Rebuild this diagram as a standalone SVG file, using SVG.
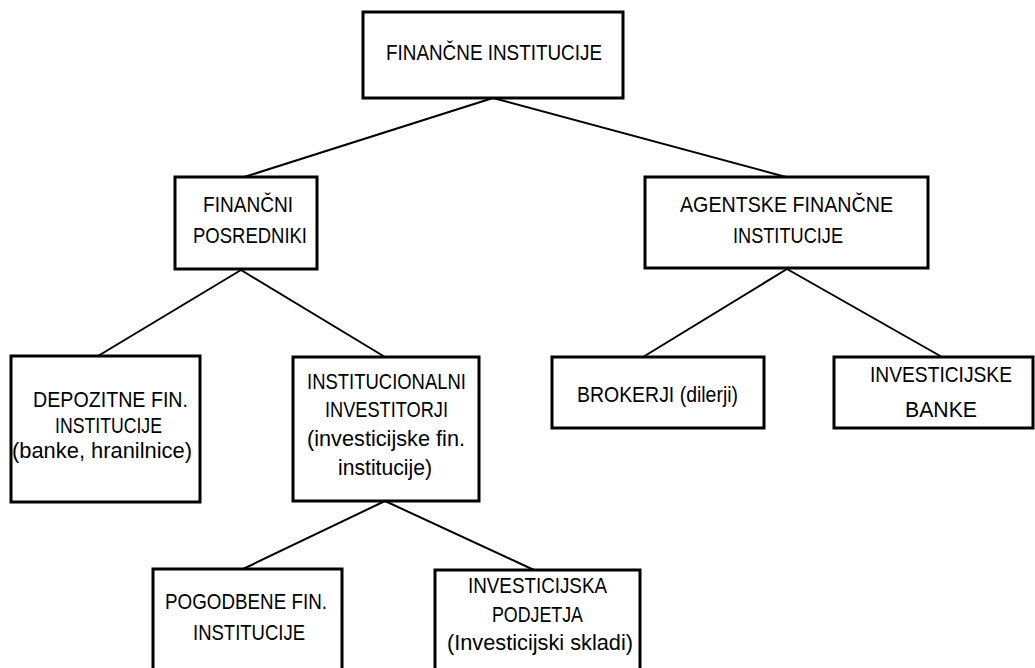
<svg xmlns="http://www.w3.org/2000/svg" width="1035" height="668" viewBox="0 0 1035 668">
<style>
.box{fill:#fff;stroke:#000;stroke-width:3}
.ln{stroke:#000;stroke-width:2;fill:none}
text{font-family:"Liberation Sans",Arial,sans-serif;font-size:22px;fill:#000}
</style>
<rect width="1035" height="668" fill="#fff"/>
<g id="connectors">
<line class="ln" x1="493" y1="98" x2="244" y2="177"/>
<line class="ln" x1="493" y1="98" x2="786" y2="177"/>
<line class="ln" x1="241" y1="270" x2="98" y2="356"/>
<line class="ln" x1="241" y1="270" x2="385" y2="357"/>
<line class="ln" x1="787" y1="269" x2="643" y2="357"/>
<line class="ln" x1="787" y1="269" x2="942" y2="357"/>
<line class="ln" x1="385" y1="501" x2="243" y2="569"/>
<line class="ln" x1="385" y1="501" x2="534" y2="570"/>
</g>
<g id="n-financne">
<rect class="box" x="363" y="12" width="260" height="86"/>
<text x="386" y="60" textLength="216" lengthAdjust="spacingAndGlyphs">FINANČNE INSTITUCIJE</text>
</g>
<g id="n-posredniki">
<rect class="box" x="175" y="177" width="142" height="92"/>
<text x="203" y="212" textLength="90" lengthAdjust="spacingAndGlyphs">FINANČNI</text>
<text x="193" y="243" textLength="114" lengthAdjust="spacingAndGlyphs">POSREDNIKI</text>
</g>
<g id="n-agentske">
<rect class="box" x="645" y="177" width="283" height="91"/>
<text x="680" y="212" textLength="213" lengthAdjust="spacingAndGlyphs">AGENTSKE FINANČNE</text>
<text x="733" y="243" textLength="110" lengthAdjust="spacingAndGlyphs">INSTITUCIJE</text>
</g>
<g id="n-depozitne">
<rect class="box" x="11" y="356" width="189" height="146"/>
<text x="33" y="407" textLength="155" lengthAdjust="spacingAndGlyphs">DEPOZITNE FIN.</text>
<text x="55" y="433" textLength="107" lengthAdjust="spacingAndGlyphs">INSTITUCIJE</text>
<text x="12" y="458" textLength="180" lengthAdjust="spacingAndGlyphs">(banke, hranilnice)</text>
</g>
<g id="n-institucionalni">
<rect class="box" x="293" y="357" width="186" height="144"/>
<text x="307" y="389" textLength="159" lengthAdjust="spacingAndGlyphs">INSTITUCIONALNI</text>
<text x="325" y="417" textLength="123" lengthAdjust="spacingAndGlyphs">INVESTITORJI</text>
<text x="307" y="446" textLength="158" lengthAdjust="spacingAndGlyphs">(investicijske fin.</text>
<text x="338" y="475" textLength="94" lengthAdjust="spacingAndGlyphs">institucije)</text>
</g>
<g id="n-brokerji">
<rect class="box" x="552" y="357" width="212" height="71"/>
<text x="577" y="402" textLength="161" lengthAdjust="spacingAndGlyphs">BROKERJI (dilerji)</text>
</g>
<g id="n-banke">
<rect class="box" x="834" y="357" width="199" height="71"/>
<text x="870" y="382" textLength="142" lengthAdjust="spacingAndGlyphs">INVESTICIJSKE</text>
<text x="905" y="417" textLength="72" lengthAdjust="spacingAndGlyphs">BANKE</text>
</g>
<g id="n-pogodbene">
<rect class="box" x="153" y="569" width="189" height="120"/>
<text x="165" y="609" textLength="162" lengthAdjust="spacingAndGlyphs">POGODBENE FIN.</text>
<text x="193" y="640" textLength="112" lengthAdjust="spacingAndGlyphs">INSTITUCIJE</text>
</g>
<g id="n-podjetja">
<rect class="box" x="435" y="570" width="205" height="120"/>
<text x="468" y="593" textLength="139" lengthAdjust="spacingAndGlyphs">INVESTICIJSKA</text>
<text x="492" y="622" textLength="91" lengthAdjust="spacingAndGlyphs">PODJETJA</text>
<text x="447" y="650" textLength="186" lengthAdjust="spacingAndGlyphs">(Investicijski skladi)</text>
</g>
</svg>
